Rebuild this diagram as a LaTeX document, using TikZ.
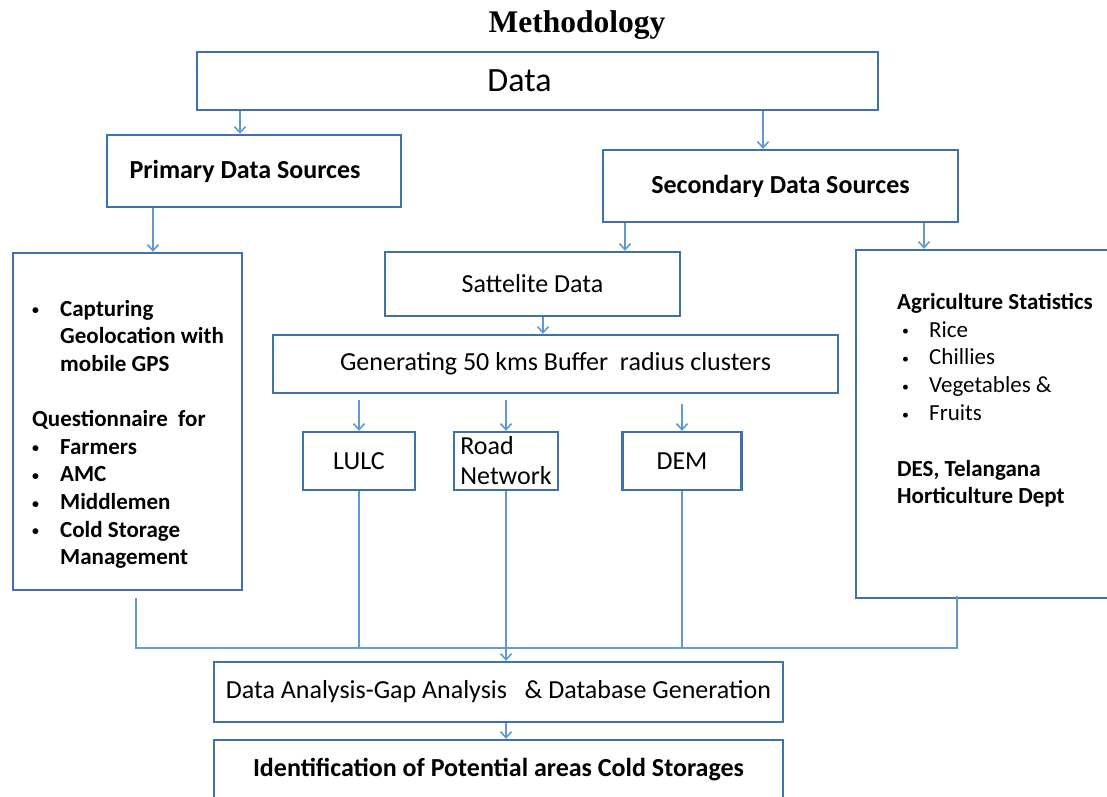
\documentclass[tikz,border=0pt]{standalone}
\usepackage{fontspec}
\setmainfont{Carlito}
\newfontfamily\titlefont{Liberation Serif}
\usepackage{xcolor}
\usetikzlibrary{arrows.meta}
\definecolor{BoxBlue}{RGB}{62,114,172}
\definecolor{LineBlue}{RGB}{96,152,210}
\newcommand{\bdot}{\raisebox{1.5pt}{\scalebox{0.6}{\textbullet}}}
\newcommand{\bul}[1]{\makebox[28pt][l]{\bdot}#1}
\newcommand{\ind}{\hspace*{28pt}}
\newcommand{\rbul}[1]{\hspace*{5pt}\makebox[27pt][l]{\bdot}#1}

\begin{document}
\begin{tikzpicture}[x=1pt, y=-1pt,
    box/.style={draw=BoxBlue, line width=2.4pt, inner sep=0pt, fill=white},
    arr/.style={draw=LineBlue, line width=1.6pt, -{Straight Barb[length=6pt,width=11pt]}},
    wire/.style={draw=LineBlue, line width=1.6pt},
    body/.style={font=\fontsize{26}{30}\selectfont}]
    \useasboundingbox[fill=white] (0,0) rectangle (1107,796);

    % Title
    \node[font=\titlefont\bfseries\fontsize{31.5}{36}\selectfont] (title) at (577,25) {Methodology};

    % Data and sources
    \node[box, minimum width=681pt, minimum height=58pt, font=\fontsize{34}{38}\selectfont] (data) at (537.5,81) {Data\hspace*{36pt}};
    \node[box, minimum width=294pt, minimum height=72pt, font=\bfseries\fontsize{26}{30}\selectfont] (primary) at (254,171) {Primary Data Sources\hspace*{18pt}};
    \node[box, minimum width=355pt, minimum height=72pt, font=\bfseries\fontsize{26}{30}\selectfont] (secondary) at (780.5,186) {Secondary Data Sources};

    % Primary data box
    \node[box, minimum width=229pt, minimum height=337pt] (field) at (127.5,421.5) {};
    \node[anchor=north west, inner sep=0pt, align=left, font=\bfseries\fontsize{23}{27.6}\selectfont] (fieldtxt) at (32,300) {%
        \bul{Capturing}\\ \ind Geolocation with\\ \ind mobile GPS\\[27.6pt]
        Questionnaire\ \ for\\ \bul{Farmers}\\ \bul{AMC}\\ \bul{Middlemen}\\
        \bul{Cold Storage}\\ \ind Management};

    % Secondary data boxes
    \node[box, minimum width=258pt, minimum height=348pt] (agri) at (985,424) {};
    \node[anchor=north west, inner sep=0pt, align=left, font=\fontsize{23}{27.8}\selectfont] (agritxt) at (897,293) {%
        \textbf{Agriculture Statistics}\\ \rbul{Rice}\\ \rbul{Chillies}\\ \rbul{Vegetables \&}\\ \rbul{Fruits}\\[27.8pt]
        \textbf{DES, Telangana}\\ \textbf{Horticulture Dept}};

    \node[box, body, minimum width=295pt, minimum height=64pt] (sat) at (532.5,284) {Sattelite Data};
    \node[box, body, minimum width=565pt, minimum height=58pt] (buffer) at (555.5,364) {Generating 50 kms Buffer\ \ radius clusters};
    \node[box, body, minimum width=112pt, minimum height=58pt] (lulc) at (359,461) {LULC};
    \node[box, minimum width=104pt, minimum height=58pt, align=left, font=\fontsize{26}{30}\selectfont] (road) at (506,461) {Road\\Network};
    \node[box, body, minimum width=119pt, minimum height=58pt] (dem) at (682,461) {DEM};

    % Analysis
    \node[box, body, minimum width=569pt, minimum height=60pt] (analysis) at (498.5,692) {Data Analysis-Gap Analysis\ \ \ \& Database Generation};
    \node[box, minimum width=569pt, minimum height=60pt, font=\bfseries\fontsize{26}{30}\selectfont] (ident) at (498.5,770) {Identification of Potential areas Cold Storages};
    \coordinate (bus) at (0,648);

    % Arrows
    \draw[arr] ([xshift=-14pt]primary.north |- data.south) -- ([xshift=-14pt]primary.north);
    \draw[arr] ([xshift=-17.5pt]secondary.north |- data.south) -- ([xshift=-17.5pt]secondary.north);
    \draw[arr] ([xshift=25.5pt]field.north |- primary.south) -- ([xshift=25.5pt]field.north);
    \draw[arr] ([xshift=92.5pt]sat.north |- secondary.south) -- ([xshift=92.5pt]sat.north);
    \draw[arr] ([xshift=-61pt]agri.north |- secondary.south) -- ([xshift=-61pt]agri.north);
    \draw[arr] ([xshift=10.5pt]sat.south) -- ([xshift=10.5pt]sat.south |- buffer.north);
    \draw[arr] ([yshift=-6pt]lulc.north |- buffer.south) -- (lulc.north);
    \draw[arr] ([yshift=-6pt]road.north |- buffer.south) -- (road.north);
    \draw[arr] ([yshift=-10pt]dem.north |- buffer.south) -- (dem.north);
    \draw[wire] ([xshift=8.5pt,yshift=-7pt]field.south) |- ([xshift=-28pt]agri.south |- bus) -- ([xshift=-28pt,yshift=3pt]agri.south);
    \draw[wire] (lulc.south) -- (lulc.south |- bus);
    \draw[wire] (dem.south) -- (dem.south |- bus);
    \draw[arr] (road.south) -- (analysis.north -| road.south);
    \draw[arr] (analysis.south -| road.south) -- (ident.north -| road.south);
\end{tikzpicture}
\end{document}
